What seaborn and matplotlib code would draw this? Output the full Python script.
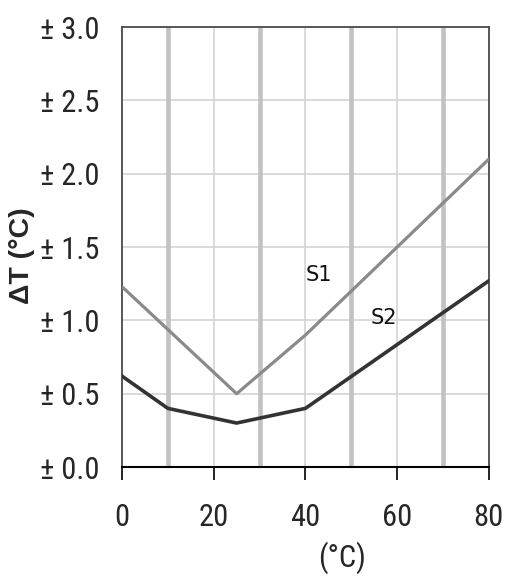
import matplotlib
matplotlib.use("Agg")
import matplotlib.pyplot as plt
import seaborn as sns
import pandas as pd

s1_temp = [0, 25, 40, 80]
s1_dt = [1.23, 0.50, 0.90, 2.10]
s2_temp = [0, 10, 25, 40, 80]
s2_dt = [0.62, 0.40, 0.30, 0.40, 1.27]
x_ticks = [0, 20, 40, 60, 80]
y_ticks = [0.0, 0.5, 1.0, 1.5, 2.0, 2.5, 3.0]
y_tick_labels = ["± 0.0", "± 0.5", "± 1.0", "± 1.5", "± 2.0", "± 2.5", "± 3.0"]
band_lines = [10, 30, 50, 70]

sns.set_theme(style="white")
plt.rcParams['font.family'] = ['DejaVu Sans']
narrow = ["Roboto Condensed", "DejaVu Sans"]

fig = plt.figure(figsize=(5.05, 5.78), dpi=100)
ax = fig.add_axes([0.2416, 0.192, 0.968 - 0.2416, 0.953 - 0.192])

for v in band_lines:
    ax.axvline(v, color="#c2c2c2", lw=3.3, zorder=1)
for yv in y_ticks[1:-1]:
    ax.axhline(yv, color="#d4d4d4", lw=1.2, zorder=0.5)
for xv in [20, 40, 60]:
    ax.axvline(xv, color="#d4d4d4", lw=1.2, zorder=0.5)

df1 = pd.DataFrame({"t": s1_temp, "dt": s1_dt})
df2 = pd.DataFrame({"t": s2_temp, "dt": s2_dt})
sns.lineplot(data=df1, x="t", y="dt", ax=ax, color="#8a8a8a", lw=2.3, zorder=3)
sns.lineplot(data=df2, x="t", y="dt", ax=ax, color="#333333", lw=2.6, zorder=3)

fig.text(319 / 505, 1 - 275 / 578, "S1", ha="center", va="center",
         fontsize=15, color="#111111")
fig.text(384 / 505, 1 - 318 / 578, "S2", ha="center", va="center",
         fontsize=15, color="#111111")

ax.set_xlim(0, 80)
ax.set_ylim(0, 3.0)
ax.set_xticks(x_ticks)
ax.set_xticklabels([str(v) for v in x_ticks], family=narrow, fontsize=22)
ax.set_yticks(y_ticks)
ax.set_yticklabels(y_tick_labels, family=narrow, fontsize=22)
ax.tick_params(axis="x", direction="out", length=9, width=1.2, color="black", pad=17, bottom=True)
ax.tick_params(axis="y", length=0, pad=16)

for side in ["left", "right", "top"]:
    ax.spines[side].set_color("#4a4a4a")
    ax.spines[side].set_linewidth(1.3)
ax.spines["bottom"].set_color("black")
ax.spines["bottom"].set_linewidth(1.5)

ax.set_xlabel("")
ax.set_ylabel("")
fig.text(22 / 505, 1 - 256 / 578, "ΔT (°C)", rotation=90, ha="center", va="center",
         fontsize=20.5, fontweight="bold", family=["Liberation Sans", "DejaVu Sans"])
fig.text(342 / 505, 1 - 558 / 578, "(°C)", ha="center", va="center",
         fontsize=22, family=narrow)

fig.savefig("out.png", dpi=100)
